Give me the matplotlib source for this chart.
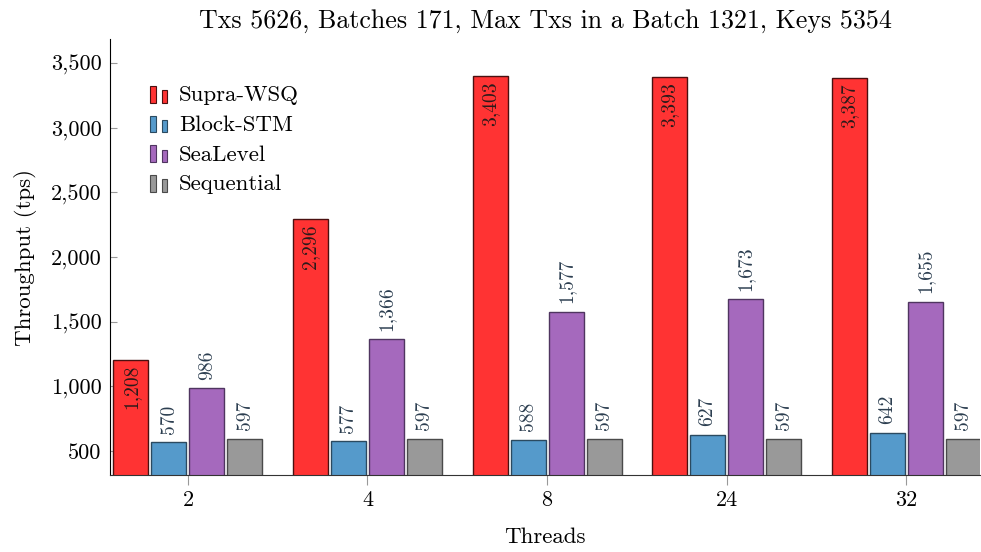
import numpy as np
import matplotlib.pyplot as plt
from matplotlib.patches import Rectangle
from matplotlib.legend_handler import HandlerBase
from matplotlib.ticker import FuncFormatter

plt.rcParams['font.family'] = ['cmr10', 'DejaVu Serif']
plt.rcParams['axes.formatter.use_mathtext'] = True

threads = ["2", "4", "8", "24", "32"]
series = ["Supra-WSQ", "Block-STM", "SeaLevel", "Sequential"]
supra = [1208, 2296, 3403, 3393, 3387]
blockstm = [570, 577, 588, 627, 642]
sealevel = [986, 1366, 1577, 1673, 1655]
sequential = [597, 597, 597, 597, 597]

fills = ["#ff3333", "#559acb", "#a569bd", "#999999"]
edges = ["#4a1010", "#2b4a60", "#4f3560", "#4a4a4a"]
title = "Txs 5626, Batches 171, Max Txs in a Batch 1321, Keys 5354"


class TwoBars(HandlerBase):
    # pgfplots-style ybar legend image: two little bars
    def create_artists(self, legend, orig_handle, xdescent, ydescent,
                       width, height, fontsize, trans):
        fc = orig_handle.get_facecolor()
        ec = orig_handle.get_edgecolor()
        w = width * 0.3
        r1 = Rectangle((-xdescent, -ydescent - 1), w, height * 1.05,
                       facecolor=fc, edgecolor=ec, lw=0.8, transform=trans)
        r2 = Rectangle((-xdescent + width * 0.66, -ydescent - 1), w, height * 0.78,
                       facecolor=fc, edgecolor=ec, lw=0.8, transform=trans)
        return [r1, r2]


fig = plt.figure(figsize=(9.81, 5.52), dpi=100)
ax = fig.add_axes([0.1121, 0.1395, 0.8869, 0.7895])

x = np.arange(len(threads))
step = 0.2117
width = 0.195
data = [supra, blockstm, sealevel, sequential]
handles = []
for i, vals in enumerate(data):
    xs = x + (i - 1.5) * step
    b = ax.bar(xs, vals, width, bottom=0, color=fills[i], edgecolor=edges[i],
               linewidth=1.0, label=series[i], zorder=2)
    handles.append(b[0])
    for xx, v in zip(xs, vals):
        txt = f"{v:,}"
        if i == 0:
            ax.annotate(txt, (xx, v), xytext=(0, -4), textcoords="offset points",
                        rotation=90, ha="center", va="top", fontsize=14,
                        color="#2a1a1a")
        else:
            ax.annotate(txt, (xx, v), xytext=(0, 6), textcoords="offset points",
                        rotation=90, ha="center", va="bottom", fontsize=14,
                        color="#2c3e50")

ax.set_xlim(-0.4345, 4.412)
ax.set_ylim(315, 3685)
ax.set_xticks(x)
ax.set_xticklabels(threads)
ax.set_yticks([500, 1000, 1500, 2000, 2500, 3000, 3500])
ax.yaxis.set_major_formatter(FuncFormatter(lambda v, p: f"{int(v):,}"))
ax.tick_params(axis="y", direction="in", length=5, color="#999999", labelsize=16, pad=6)
ax.tick_params(axis="x", direction="out", length=7, color="#999999", labelsize=16, pad=4)
ax.spines["top"].set_visible(False)
ax.spines["right"].set_visible(False)
ax.spines["left"].set_color("black")
ax.spines["bottom"].set_color("#333333")

ax.set_title(title, fontsize=18.7, pad=8)
ax.set_xlabel("Threads", fontsize=16.5, labelpad=13)
ax.set_ylabel("Throughput (tps)", fontsize=16.5, labelpad=10)

ax.legend(handles, series, handler_map={h: TwoBars() for h in handles},
          loc="upper left", bbox_to_anchor=(0.036, 0.915), frameon=False,
          fontsize=16.5, handlelength=0.75, handletextpad=0.5, labelspacing=0.42,
          borderaxespad=0)

fig.savefig("out.png", dpi=100)
